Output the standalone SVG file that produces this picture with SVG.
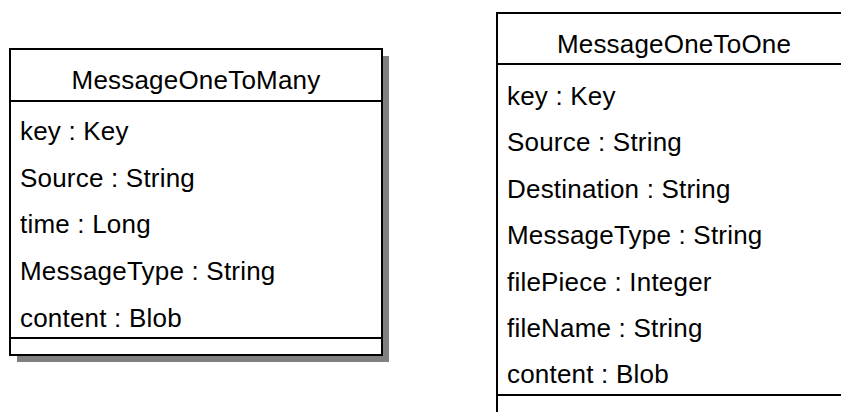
<svg xmlns="http://www.w3.org/2000/svg" width="841" height="412" viewBox="0 0 841 412">
  <style>
    .box { fill: #ffffff; stroke: #000000; stroke-width: 2; }
    .shadow { fill: #808080; stroke: none; }
    .sep { stroke: #000000; stroke-width: 2; fill: none; }
    .title { font-family: "Liberation Sans", Arial, sans-serif; font-size: 26px; letter-spacing: 0.2px; fill: #000000; text-anchor: middle; }
    .attr { font-family: "Liberation Sans", Arial, sans-serif; font-size: 26px; letter-spacing: 0.2px; fill: #000000; }
  </style>
  <rect width="841" height="412" fill="#ffffff"/>

  <!-- class MessageOneToMany -->
  <g id="MessageOneToMany">
    <rect class="shadow" x="17" y="56" width="372" height="306"/>
    <rect class="box" x="10" y="49" width="372" height="306"/>
    <line class="sep" x1="10" y1="101" x2="382" y2="101"/>
    <line class="sep" x1="10" y1="338" x2="382" y2="338"/>
    <text class="title" x="196" y="88.5">MessageOneToMany</text>
    <text class="attr" x="20" y="140">key : Key</text>
    <text class="attr" x="20" y="186.7">Source : String</text>
    <text class="attr" x="20" y="233.3">time : Long</text>
    <text class="attr" x="20" y="280">MessageType : String</text>
    <text class="attr" x="20" y="326.7">content : Blob</text>
  </g>

  <!-- class MessageOneToOne -->
  <g id="MessageOneToOne">
    <rect class="box" x="497" y="13" width="355" height="420"/>
    <line class="sep" x1="497" y1="64" x2="852" y2="64"/>
    <line class="sep" x1="497" y1="395" x2="852" y2="395"/>
    <text class="title" x="674" y="53">MessageOneToOne</text>
    <text class="attr" x="507" y="105">key : Key</text>
    <text class="attr" x="507" y="151.4">Source : String</text>
    <text class="attr" x="507" y="197.8">Destination : String</text>
    <text class="attr" x="507" y="244.2">MessageType : String</text>
    <text class="attr" x="507" y="290.6">filePiece : Integer</text>
    <text class="attr" x="507" y="337">fileName : String</text>
    <text class="attr" x="507" y="383.4">content : Blob</text>
  </g>

  <!-- no associations between the two classes -->
  <g id="connectors"></g>
</svg>
